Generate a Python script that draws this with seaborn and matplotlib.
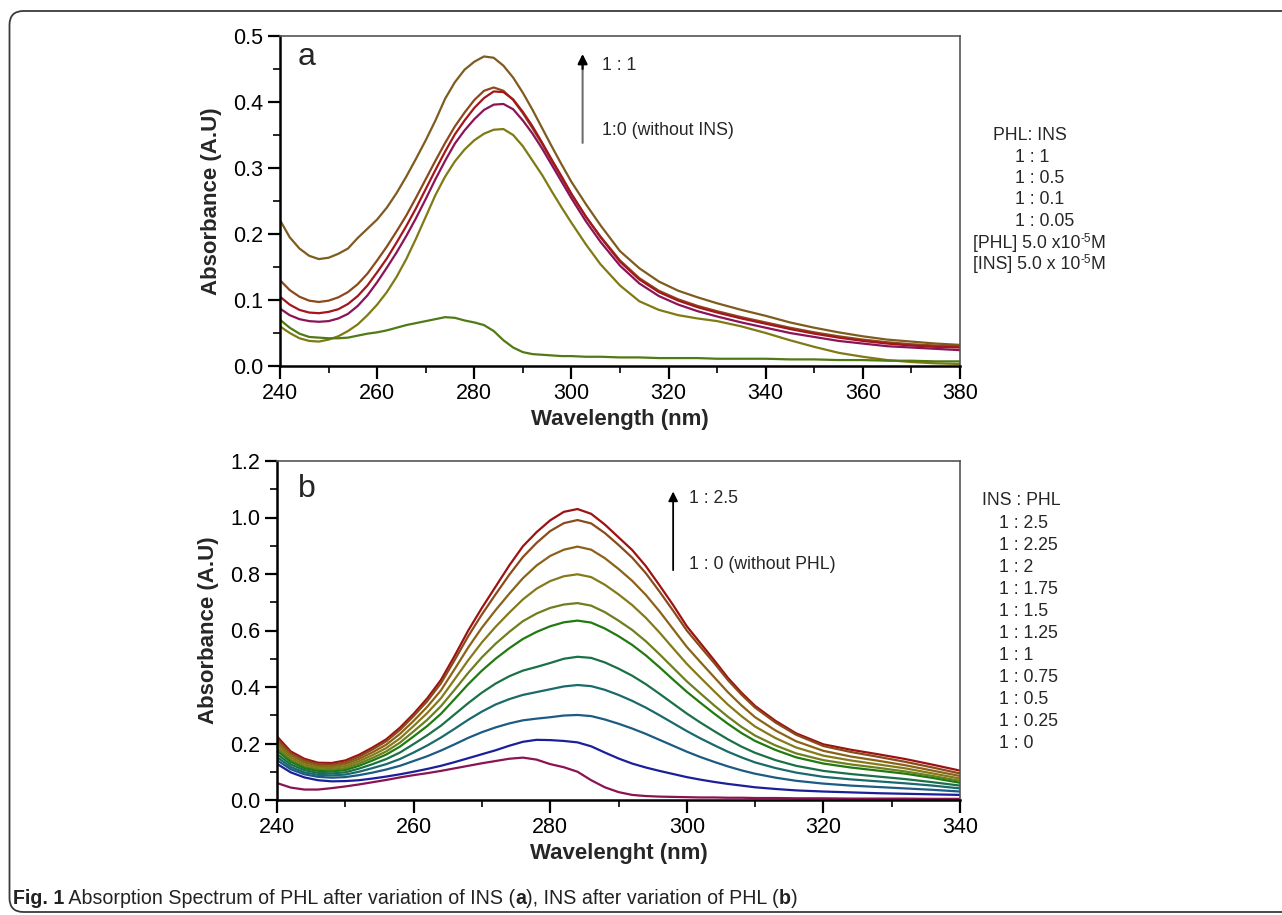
import matplotlib
matplotlib.use("Agg")
import numpy as np
import pandas as pd
import seaborn as sns
import matplotlib.pyplot as plt
from matplotlib.ticker import MultipleLocator, FormatStrFormatter
from matplotlib.patches import FancyBboxPatch
from matplotlib.transforms import IdentityTransform

# ---------------- data: panel a (PHL with varying INS) ----------------
wl_a = [240, 242, 244, 246, 248, 250, 252, 254, 256, 258, 260, 262, 264, 266, 268, 270,
        272, 274, 276, 278, 280, 282, 284, 286, 288, 290, 292, 294, 296, 298, 300, 303,
        306, 310, 314, 318, 322, 326, 330, 335, 340, 345, 350, 355, 360, 365, 370, 375, 380]
a_1_1 = [.221, .195, .178, .167, .162, .164, .170, .178, .194, .208, .222, .240, .262, .287,
         .314, .342, .372, .405, .430, .449, .461, .469, .467, .455, .437, .414, .388, .360,
         .332, .305, .279, .245, .213, .174, .148, .128, .114, .104, .095, .085, .076, .066,
         .058, .051, .045, .040, .037, .034, .032]
a_1_05 = [.130, .115, .105, .099, .097, .099, .104, .112, .124, .140, .160, .181, .204, .228,
          .255, .283, .311, .338, .363, .384, .403, .417, .422, .417, .403, .383, .360, .336,
          .310, .285, .260, .226, .196, .160, .133, .114, .101, .091, .083, .074, .066, .058,
          .051, .045, .040, .036, .033, .031, .030]
a_1_01 = [.105, .093, .085, .081, .080, .082, .086, .094, .106, .122, .142, .163, .187, .212,
          .239, .268, .297, .325, .351, .372, .391, .406, .416, .415, .404, .385, .363, .338,
          .312, .287, .261, .226, .195, .158, .131, .112, .099, .089, .081, .072, .064, .056,
          .049, .043, .038, .034, .031, .029, .028]
a_1_005 = [.087, .077, .071, .068, .067, .068, .072, .079, .091, .107, .127, .149, .172, .197,
           .224, .253, .283, .311, .337, .357, .374, .388, .396, .397, .389, .372, .352, .329,
           .304, .279, .254, .219, .188, .152, .125, .106, .093, .083, .075, .066, .058, .050,
           .044, .038, .034, .030, .028, .026, .024]
a_1_0 = [.060, .050, .042, .038, .037, .040, .045, .053, .063, .077, .093, .112, .135, .162,
         .193, .226, .259, .287, .310, .328, .342, .352, .358, .359, .350, .333, .311, .289,
         .264, .240, .217, .184, .154, .122, .098, .085, .077, .072, .068, .060, .050, .039,
         .029, .020, .014, .009, .006, .004, .003]
a_ins = [.070, .058, .049, .044, .043, .042, .042, .043, .046, .049, .051, .054, .058, .062,
         .065, .068, .071, .074, .073, .069, .066, .062, .053, .039, .028, .021, .018, .017,
         .016, .015, .015, .014, .014, .013, .013, .012, .012, .012, .011, .011, .011, .010,
         .010, .009, .009, .008, .008, .007, .007]
series_a = {"1 : 1": a_1_1, "1 : 0.5": a_1_05, "1 : 0.1": a_1_01,
            "1 : 0.05": a_1_005, "1 : 0": a_1_0, "INS": a_ins}
colors_a = {"1 : 1": "#7d5c1e", "1 : 0.5": "#8c4a1c", "1 : 0.1": "#a3171c",
            "1 : 0.05": "#8a1457", "1 : 0": "#7f7a14", "INS": "#4f7a14"}
legend_a_head = "PHL: INS"
legend_a_rows = ["1 : 1", "1 : 0.5", "1 : 0.1", "1 : 0.05"]

# ---------------- data: panel b (INS with varying PHL) ----------------
wl_b = [240, 242, 244, 246, 248, 250, 252, 254, 256, 258, 260, 262, 264, 266, 268, 270,
        272, 274, 276, 278, 280, 282, 284, 286, 288, 290, 292, 294, 296, 298, 300, 302,
        304, 306, 308, 310, 313, 316, 320, 324, 328, 332, 336, 340]
b_2_5 = [.225, .172, .146, .132, .131, .140, .160, .186, .215, .256, .305, .360, .425, .510,
         .600, .680, .755, .830, .898, .948, .990, 1.020, 1.030, 1.013, .975, .930, .885,
         .828, .760, .690, .615, .555, .495, .433, .380, .333, .280, .236, .197, .178, .162,
         .145, .125, .104]
b_2_25 = [.215, .166, .140, .127, .125, .133, .153, .179, .208, .248, .297, .350, .413, .495,
          .580, .657, .728, .797, .860, .910, .952, .980, .991, .979, .945, .903, .858, .803,
          .738, .670, .600, .542, .485, .425, .373, .327, .274, .231, .191, .170, .153, .135,
          .115, .094]
b_2 = [.205, .158, .133, .121, .119, .127, .145, .169, .196, .234, .280, .330, .388, .463,
       .540, .610, .672, .730, .785, .830, .864, .886, .897, .886, .856, .818, .776, .726,
       .668, .605, .542, .488, .435, .382, .335, .293, .246, .208, .174, .154, .139, .123,
       .104, .085]
b_1_75 = [.195, .150, .126, .115, .113, .120, .137, .159, .184, .218, .262, .308, .360, .427,
          .495, .558, .613, .663, .710, .748, .775, .792, .799, .789, .762, .728, .690, .645,
          .593, .537, .482, .433, .385, .338, .297, .260, .219, .186, .157, .140, .126, .112,
          .094, .076]
b_1_5 = [.185, .142, .119, .109, .107, .113, .129, .149, .172, .203, .243, .284, .332, .390,
         .450, .505, .553, .595, .633, .660, .680, .692, .697, .688, .665, .635, .602, .562,
         .516, .468, .420, .377, .335, .295, .259, .228, .193, .165, .141, .126, .114, .101,
         .085, .068]
b_1_25 = [.175, .135, .113, .103, .101, .106, .121, .140, .161, .189, .225, .262, .305, .357,
          .410, .458, .500, .537, .570, .595, .615, .629, .635, .628, .607, .580, .549, .512,
          .470, .426, .383, .344, .306, .270, .237, .209, .177, .151, .129, .115, .104, .093,
          .078, .061]
b_1 = [.163, .126, .106, .096, .094, .098, .111, .127, .145, .168, .198, .229, .263, .303,
       .343, .380, .412, .438, .458, .471, .485, .500, .507, .503, .487, .465, .440, .410,
       .376, .341, .306, .274, .244, .215, .189, .167, .141, .121, .103, .092, .083, .074,
       .063, .051]
b_0_75 = [.152, .117, .098, .089, .087, .090, .100, .113, .127, .145, .168, .193, .221, .252,
          .284, .313, .338, .357, .372, .382, .392, .402, .407, .403, .390, .372, .351, .327,
          .300, .272, .244, .218, .194, .171, .151, .133, .113, .097, .082, .073, .066, .059,
          .051, .041]
b_0_5 = [.141, .109, .091, .082, .079, .081, .088, .097, .108, .121, .138, .155, .175, .197,
         .220, .240, .257, .271, .282, .288, .293, .299, .301, .297, .285, .270, .253, .234,
         .213, .192, .171, .152, .135, .119, .105, .093, .079, .068, .058, .051, .046, .041,
         .036, .030]
b_0_25 = [.128, .098, .080, .070, .066, .067, .070, .076, .083, .091, .100, .110, .121, .134,
          .148, .162, .176, .192, .206, .213, .212, .209, .204, .190, .168, .147, .129, .115,
          .103, .092, .081, .072, .064, .057, .051, .045, .039, .034, .030, .027, .024, .022,
          .020, .018]
b_0 = [.060, .044, .037, .037, .042, .048, .055, .063, .071, .080, .088, .095, .103, .112,
       .121, .130, .138, .146, .150, .143, .127, .116, .100, .070, .045, .028, .018, .014,
       .012, .011, .010, .009, .009, .008, .008, .007, .007, .006, .006, .005, .005, .005,
       .004, .004]
legend_b_head = "INS : PHL"
legend_b_rows = ["1 : 2.5", "1 : 2.25", "1 : 2", "1 : 1.75", "1 : 1.5", "1 : 1.25",
                 "1 : 1", "1 : 0.75", "1 : 0.5", "1 : 0.25", "1 : 0"]
series_b_values = [b_2_5, b_2_25, b_2, b_1_75, b_1_5, b_1_25, b_1, b_0_75, b_0_5, b_0_25, b_0]
colors_b = ["#9c1212", "#8b4a1b", "#8a6318", "#857a1a", "#6d7f1e", "#217a10",
            "#1b7048", "#1a6a6c", "#1c5b84", "#1c1f9a", "#8a1352"]

# ---------------- long-form tables ----------------
df_a = pd.concat([pd.DataFrame({"wl": wl_a, "A": v, "ratio": k}) for k, v in series_a.items()],
                 ignore_index=True)
df_b = pd.concat([pd.DataFrame({"wl": wl_b, "A": v, "ratio": k})
                  for k, v in zip(legend_b_rows, series_b_values)], ignore_index=True)
pal_b = dict(zip(legend_b_rows, colors_b))

sns.set_theme(style="ticks")
plt.rcParams["font.family"] = ["Liberation Sans", "DejaVu Sans"]

W, H = 1282, 915
fig = plt.figure(figsize=(W / 100, H / 100), dpi=100)
fig.patch.set_facecolor("white")

ax_a = fig.add_axes([280 / W, 1 - 366 / H, 680 / W, 330 / H])
ax_b = fig.add_axes([277 / W, 1 - 800 / H, 683 / W, 339 / H])

sns.lineplot(data=df_a, x="wl", y="A", hue="ratio", palette=colors_a, ax=ax_a,
             legend=False, linewidth=1.6, estimator=None, sort=False)
sns.lineplot(data=df_b, x="wl", y="A", hue="ratio", palette=pal_b, ax=ax_b,
             legend=False, linewidth=1.6, estimator=None, sort=False)
for ax in (ax_a, ax_b):
    for ln in ax.get_lines():
        ln.set_solid_joinstyle("round")
        ln.set_solid_capstyle("round")

def style_axes(ax, xlim, ylim, xmaj, ymaj, ymin, xlabel):
    ax.set_xlim(*xlim)
    ax.set_ylim(*ylim)
    ax.xaxis.set_major_locator(MultipleLocator(xmaj))
    ax.xaxis.set_minor_locator(MultipleLocator(xmaj / 2))
    ax.yaxis.set_major_locator(MultipleLocator(ymaj))
    ax.yaxis.set_minor_locator(MultipleLocator(ymin))
    ax.yaxis.set_major_formatter(FormatStrFormatter("%.1f"))
    ax.xaxis.set_major_formatter(FormatStrFormatter("%d"))
    for s in ("left", "bottom"):
        ax.spines[s].set_color("black")
        ax.spines[s].set_linewidth(1.8)
    for s in ("top", "right"):
        ax.spines[s].set_visible(True)
        ax.spines[s].set_color("#555555")
        ax.spines[s].set_linewidth(1.2)
    ax.tick_params(which="major", direction="out", length=9, width=1.6,
                   labelsize=15.5, colors="black", top=False, right=False, pad=3)
    ax.tick_params(which="minor", direction="out", length=5, width=1.4,
                   top=False, right=False)
    ax.set_xlabel(xlabel, fontsize=16, fontweight="bold", labelpad=4)
    ax.set_ylabel("Absorbance (A.U)", fontsize=16, fontweight="bold", labelpad=8)
    ax.grid(False)

style_axes(ax_a, (240, 380), (0, 0.5), 20, 0.1, 0.05, "Wavelength (nm)")
style_axes(ax_b, (240, 340), (0, 1.2), 20, 0.2, 0.1, "Wavelenght (nm)")

# panel letters
ax_a.text(0.026, 0.936, "a", transform=ax_a.transAxes, fontsize=23, va="center", ha="left")
ax_b.text(0.031, 0.917, "b", transform=ax_b.transAxes, fontsize=23, va="center", ha="left")

# arrows with annotations
ax_a.annotate("", xy=(0.445, 0.945), xytext=(0.445, 0.676), xycoords="axes fraction",
              arrowprops=dict(arrowstyle="-|>", color="#6f6f6f", lw=1.5,
                              mutation_scale=14, shrinkA=0, shrinkB=0))
ax_a.annotate("", xy=(0.445, 0.945), xytext=(0.445, 0.90), xycoords="axes fraction",
              arrowprops=dict(arrowstyle="-|>", color="black", lw=1.5,
                              mutation_scale=14, shrinkA=0, shrinkB=0))
ax_a.text(0.473, 0.912, "1 : 1", transform=ax_a.transAxes, fontsize=12.7, va="center")
ax_a.text(0.473, 0.715, "1:0 (without INS)", transform=ax_a.transAxes, fontsize=12.7, va="center")

ax_b.annotate("", xy=(0.580, 0.910), xytext=(0.580, 0.678), xycoords="axes fraction",
              arrowprops=dict(arrowstyle="-|>", color="black", lw=1.3,
                              mutation_scale=14, shrinkA=0, shrinkB=0))
ax_b.text(0.603, 0.888, "1 : 2.5", transform=ax_b.transAxes, fontsize=12.7, va="center")
ax_b.text(0.603, 0.696, "1 : 0 (without PHL)", transform=ax_b.transAxes, fontsize=12.7, va="center")

renderer = fig.canvas.get_renderer()

# side legends (text only)
def ftext(x, y, s, size=12.7, **kw):
    return fig.text(x / W, 1 - y / H, s, fontsize=size, va="baseline", ha="left", **kw)

def width_of(t):
    return t.get_window_extent(renderer=renderer).width

base_off = 5  # baseline below row centre
ftext(993, 135 + base_off, legend_a_head)
for i, r in enumerate(legend_a_rows):
    ftext(1015, 156.5 + 21.5 * i + base_off, r)

for y_row, (pre, post) in zip([242.5, 264],
                              [("[PHL] 5.0 x10", "M"), ("[INS] 5.0 x 10", "M")]):
    t1 = ftext(973, y_row + base_off, pre)
    xs = 973 + width_of(t1)
    t2 = ftext(xs, y_row + base_off - 6, "-5", size=8.5)
    xs += width_of(t2)
    ftext(xs, y_row + base_off, post)

ftext(982, 500 + base_off, legend_b_head)
for i, r in enumerate(legend_b_rows):
    ftext(999, 523 + 22.0 * i + base_off, r)

# outer rounded frame
frame = FancyBboxPatch((9.5, 3), 1320, 901, boxstyle="round,pad=0,rounding_size=14",
                       transform=IdentityTransform(), facecolor="none",
                       edgecolor="#3a3a3a", linewidth=1.3)
fig.patches.append(frame)

# caption
pieces = [("Fig. 1", "bold"), (" Absorption Spectrum of PHL after variation of INS (", "normal"),
          ("a", "bold"), ("), INS after variation of PHL (", "normal"), ("b", "bold"), (")", "normal")]
xpos = 13
for txt, wgt in pieces:
    t = fig.text(xpos / W, 1 - 899 / H, txt, fontsize=14.1, fontweight=wgt,
                 va="center", ha="left", color="#222222")
    xpos += t.get_window_extent(renderer=renderer).width

fig.savefig("out.png", dpi=100, facecolor="white")
